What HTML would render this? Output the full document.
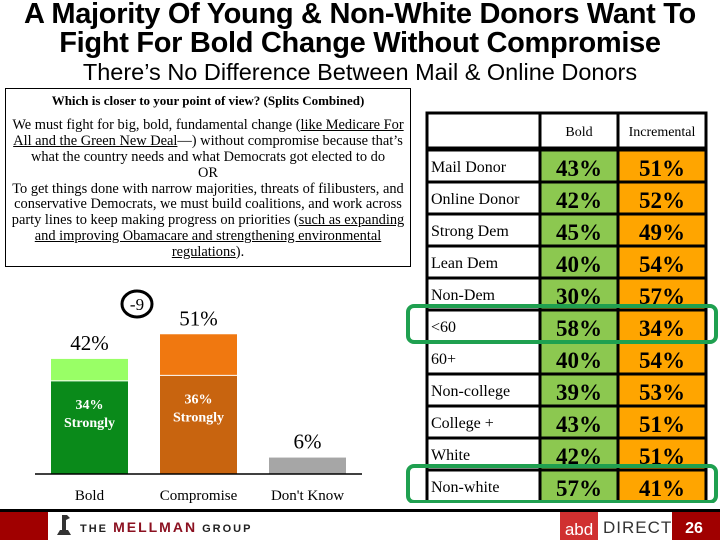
<!DOCTYPE html>
<html><head><meta charset="utf-8"><style>
body{margin:0;width:720px;height:540px;overflow:hidden;background:#fff;position:relative;font-family:"Liberation Serif",serif}
.t{position:absolute;left:0;width:720px;text-align:center;font-family:"Liberation Sans",sans-serif;color:#000}
#q{position:absolute;left:5px;top:88px;width:406px;height:179px;border:1px solid #000;box-sizing:border-box;text-align:center;font-size:14.4px;line-height:15.9px;white-space:nowrap}
#q b{display:block;font-size:13px;margin:4px 0 9px}
#q u{text-decoration:underline}
</style></head><body>
<div class="t" style="top:0;font-size:29px;font-weight:bold;line-height:29px;letter-spacing:-0.3px">A Majority Of Young &amp; Non-White Donors Want To<br>Fight For Bold Change Without Compromise</div>
<div class="t" style="top:59px;font-size:23.5px;line-height:26px">There’s No Difference Between Mail &amp; Online Donors</div>
<div id="q"><b>Which is closer to your point of view? (Splits Combined)</b>We must fight for big, bold, fundamental change (<u>like Medicare For</u><br><u>All and the Green New Deal</u>—) without compromise because that’s<br>what the country needs and what Democrats got elected to do<br>OR<br>To get things done with narrow majorities, threats of filibusters, and<br>conservative Democrats, we must build coalitions, and work across<br>party lines to keep making progress on priorities (<u>such as expanding</u><br><u>and improving Obamacare and strengthening environmental</u><br><u>regulations</u>).</div>
<svg id="chart" width="720" height="540" style="position:absolute;left:0;top:0"></svg>
<script>
const categories=["Bold","Compromise","Don't Know"];
const totals=[42,51,6];
const strongly=[34,36,null];
const topColors=["#99ff66","#f07810","#a6a6a6"];
const baseColors=["#0a8a1a","#c8640f","#a6a6a6"];
const rowLabels=["Mail Donor","Online Donor","Strong Dem","Lean Dem","Non-Dem","<60","60+","Non-college","College +","White","Non-white"];
const boldVals=[43,42,45,40,30,58,40,39,43,42,57];
const incVals=[51,52,49,54,57,34,54,53,51,51,41];
const highlightRows=[5,10];
const NS="http://www.w3.org/2000/svg";
const svg=document.getElementById('chart');
function mk(tag,attrs,name,parent){const e=document.createElementNS(NS,tag);for(const k in attrs)e.setAttribute(k,attrs[k]);


(parent||svg).appendChild(e);return e;}
const baseY=474,pxPer=2.74;
const yS=v=>baseY-v*pxPer;
const xS=i=>51+i*109;
const bw=77;
categories.forEach((c,i)=>{
  const x=xS(i);
  mk('rect',{x:x,y:yS(totals[i]),width:bw,height:totals[i]*pxPer,fill:topColors[i]},'bar-'+c.toLowerCase().replace(/[^a-z]/g,''));
  if(strongly[i]!=null){
    mk('rect',{x:x,y:yS(strongly[i]),width:bw,height:strongly[i]*pxPer,fill:baseColors[i]},'bar-strongly-'+i);
    mk('line',{x1:x,x2:x+bw,y1:yS(strongly[i]),y2:yS(strongly[i]),stroke:'#fff','stroke-width':1},'bar-divider-'+i);
    const t=mk('text',{x:x+bw/2,y:yS(strongly[i])+28,'text-anchor':'middle','font-size':14,'font-weight':'bold',fill:'#fff','font-family':'Liberation Serif'},'strongly-label-'+i);
    t.innerHTML='<tspan x="'+(x+bw/2)+'">'+strongly[i]+'%</tspan><tspan x="'+(x+bw/2)+'" dy="18">Strongly</tspan>';
  }
  const l=mk('text',{x:x+bw/2,y:yS(totals[i])-9,'text-anchor':'middle','font-size':21,'font-family':'Liberation Serif'},'value-label-'+i);
  l.textContent=totals[i]+'%';
  const cl=mk('text',{x:x+bw/2,y:500,'text-anchor':'middle','font-size':15,'font-family':'Liberation Serif'},'category-label-'+i);
  cl.textContent=c;
});
mk('line',{x1:35,x2:362,y1:baseY,y2:baseY,stroke:'#000','stroke-width':1.5},'baseline');
mk('ellipse',{cx:137,cy:304,rx:15,ry:13,fill:'none',stroke:'#000','stroke-width':3},'gap-circle');
const g=mk('text',{x:137,y:310,'text-anchor':'middle','font-size':17,'font-family':'Liberation Serif'},'gap-label');g.textContent='-9';
const tx=[427,540,618,706];const ty0=113,hh=35,rh=32;
mk('rect',{x:tx[0],y:ty0,width:tx[3]-tx[0],height:hh,fill:'#fff',stroke:'#000','stroke-width':3},'table-header');
const h1=mk('text',{x:579,y:136,'text-anchor':'middle','font-size':14,'font-family':'Liberation Serif'},'header-bold');h1.textContent='Bold';
const h2=mk('text',{x:662,y:136,'text-anchor':'middle','font-size':14,'font-family':'Liberation Serif'},'header-incremental');h2.textContent='Incremental';
mk('line',{x1:tx[1],x2:tx[1],y1:ty0,y2:ty0+hh,stroke:'#000','stroke-width':3},'header-sep1');
mk('line',{x1:tx[2],x2:tx[2],y1:ty0,y2:ty0+hh,stroke:'#000','stroke-width':3},'header-sep2');
const rowsTop=ty0+hh+2;
rowLabels.forEach((r,i)=>{
  const y=rowsTop+i*rh;
  mk('rect',{x:tx[0],y:y,width:tx[1]-tx[0],height:rh,fill:'#fff',stroke:'#000','stroke-width':3},'row-label-cell-'+i);
  mk('rect',{x:tx[1],y:y,width:tx[2]-tx[1],height:rh,fill:'#8cc850',stroke:'#000','stroke-width':3},'bold-cell-'+i);
  mk('rect',{x:tx[2],y:y,width:tx[3]-tx[2],height:rh,fill:'#ffa500',stroke:'#000','stroke-width':3},'incremental-cell-'+i);
  const a=mk('text',{x:431,y:y+22,'font-size':16,'font-family':'Liberation Serif'},'row-label-'+i);a.textContent=r;
  const b=mk('text',{x:579,y:y+26,'text-anchor':'middle','font-size':23,'font-weight':'bold','font-family':'Liberation Serif'},'bold-value-'+i);b.textContent=boldVals[i]+'%';
  const c=mk('text',{x:662,y:y+26,'text-anchor':'middle','font-size':23,'font-weight':'bold','font-family':'Liberation Serif'},'incremental-value-'+i);c.textContent=incVals[i]+'%';
});
highlightRows.forEach(i=>{const y=rowsTop+i*rh;
  mk('rect',{x:408,y:y-4,width:308,height:36,rx:6,fill:'none',stroke:'#1fa050','stroke-width':4},'highlight-'+i);});
mk('rect',{x:0,y:503,width:720,height:37,fill:'#fff'},'footer-bg');
mk('rect',{x:0,y:509,width:720,height:3,fill:'#000'},'footer-line');
mk('rect',{x:0,y:512,width:48,height:28,fill:'#a00000'},'footer-red-left');
mk('path',{d:'M57 535 h14 l-3-5 h-2 v-10 l4-2 -3-3 h-5 v15 h-2z',fill:'#333'},'mellman-logo-icon');
const m=mk('text',{x:80,y:532,'font-size':14,'font-weight':'bold','font-family':'Liberation Sans','letter-spacing':'2'},'mellman-logo');
m.innerHTML='<tspan fill="#222" font-size="11">THE </tspan><tspan fill="#8b1020">MELLMAN</tspan><tspan fill="#222" font-size="11"> GROUP</tspan>';
mk('rect',{x:560,y:512,width:38,height:28,fill:'#d03030'},'abd-logo-bg');
const ab=mk('text',{x:579,y:535,'text-anchor':'middle','font-size':17,fill:'#fff','font-family':'Liberation Sans'},'abd-logo');ab.textContent='abd';
const d=mk('text',{x:603,y:533,'font-size':17,fill:'#333','font-family':'Liberation Sans Narrow, Liberation Sans','letter-spacing':'1'},'direct-logo');d.textContent='DIRECT';
mk('rect',{x:672,y:512,width:48,height:28,fill:'#a00000'},'page-number-bg');
const pn=mk('text',{x:694,y:533,'text-anchor':'middle','font-size':16,'font-weight':'bold',fill:'#fff','font-family':'Liberation Sans'},'page-number');pn.textContent='26';
</script>
</body></html>
